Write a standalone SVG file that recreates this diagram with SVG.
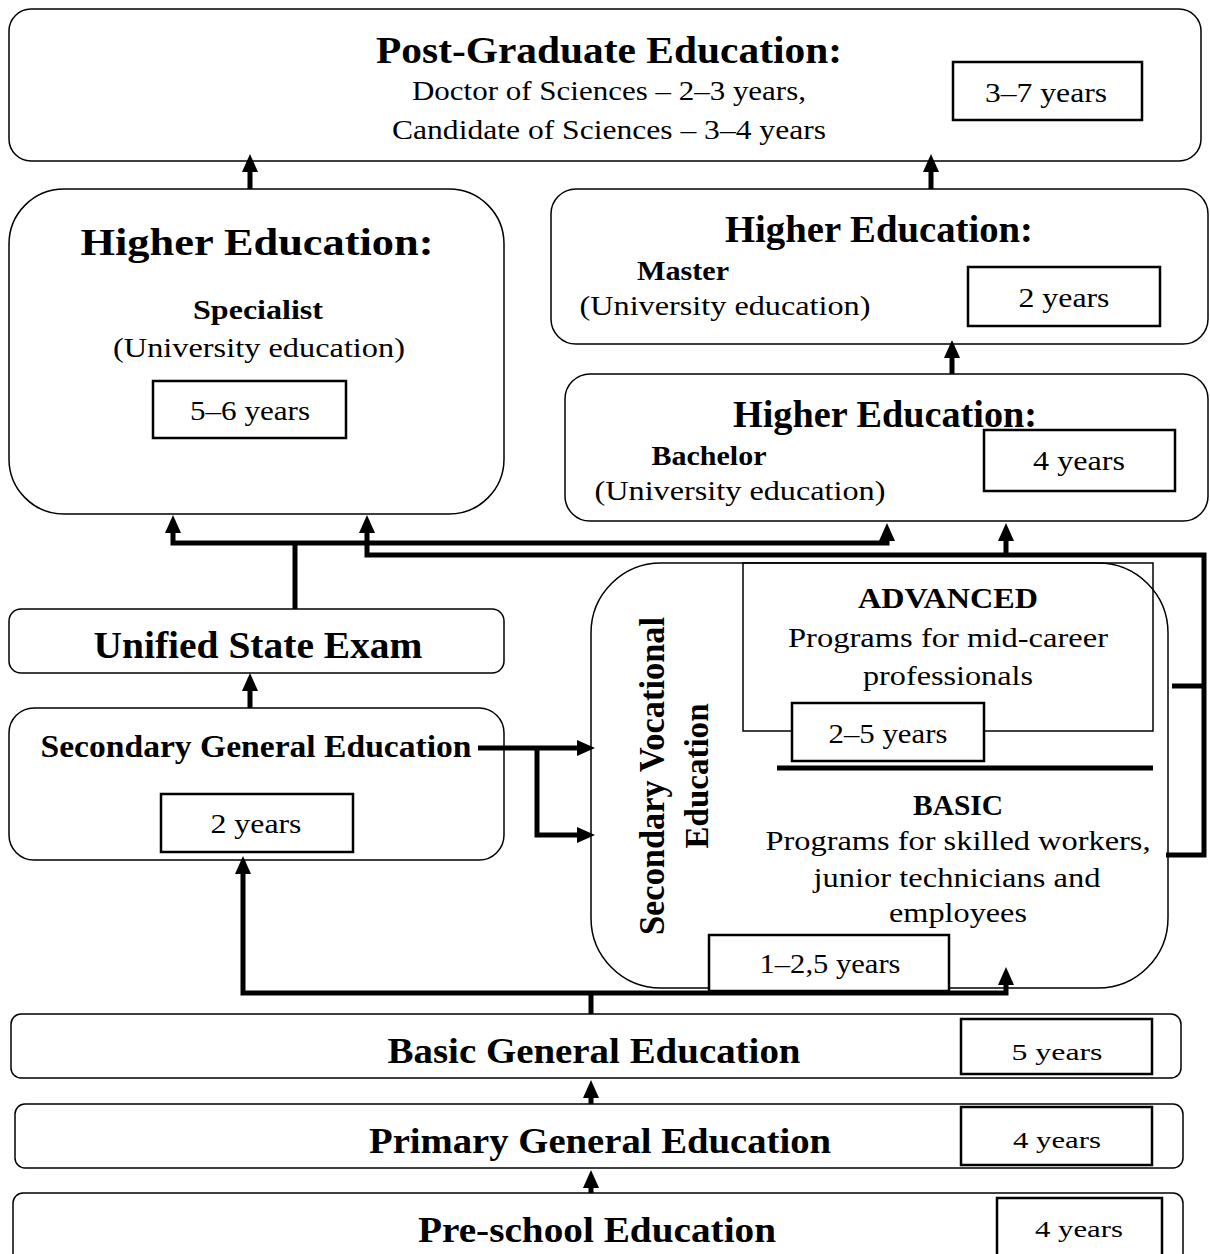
<svg xmlns="http://www.w3.org/2000/svg" width="1210" height="1254" viewBox="0 0 1210 1254">
<style>
text{font-family:"Liberation Serif","Times New Roman",serif;fill:#000;text-anchor:middle}
.b{font-weight:bold}
.box{fill:#fff;stroke:#000;stroke-width:1.5}
.yr{fill:#fff;stroke:#000;stroke-width:2.5}
.c{fill:none;stroke:#000;stroke-width:5}
</style>
<defs>
<marker id="ah" viewBox="0 0 18 16" refX="1" refY="8" markerWidth="18" markerHeight="16" markerUnits="userSpaceOnUse" orient="auto-start-reverse">
<path d="M0,0 L18,8 L0,16 z" fill="#000"/>
</marker>
</defs>
<rect x="0" y="0" width="1210" height="1254" fill="#fff"/>

<g id="postgrad">
<rect class="box" x="9" y="9" width="1192" height="152" rx="22"/>
<text class="b" x="609" y="63" font-size="37" textLength="466" lengthAdjust="spacingAndGlyphs">Post-Graduate Education:</text>
<text x="609" y="100" font-size="27" textLength="394" lengthAdjust="spacingAndGlyphs">Doctor of Sciences – 2–3 years,</text>
<text x="609" y="139" font-size="27" textLength="434" lengthAdjust="spacingAndGlyphs">Candidate of Sciences – 3–4 years</text>
<rect class="yr" x="953" y="62" width="189" height="58"/>
<text x="1046" y="102" font-size="27" textLength="122" lengthAdjust="spacingAndGlyphs">3–7 years</text>
</g>

<g id="higher-specialist">
<rect class="box" x="9" y="189" width="495" height="325" rx="55"/>
<text class="b" x="257" y="255" font-size="38" textLength="353" lengthAdjust="spacingAndGlyphs">Higher Education:</text>
<text class="b" x="258" y="319" font-size="27" textLength="130" lengthAdjust="spacingAndGlyphs">Specialist</text>
<text x="259" y="357" font-size="27" textLength="292" lengthAdjust="spacingAndGlyphs">(University education)</text>
<rect class="yr" x="153" y="381" width="193" height="57"/>
<text x="250" y="420" font-size="27" textLength="120" lengthAdjust="spacingAndGlyphs">5–6 years</text>
</g>

<g id="higher-master">
<rect class="box" x="551" y="189" width="657" height="155" rx="25"/>
<text class="b" x="879" y="242" font-size="37" textLength="308" lengthAdjust="spacingAndGlyphs">Higher Education:</text>
<text class="b" x="683" y="280" font-size="27" textLength="92" lengthAdjust="spacingAndGlyphs">Master</text>
<text x="725" y="315" font-size="27" textLength="291" lengthAdjust="spacingAndGlyphs">(University education)</text>
<rect class="yr" x="968" y="267" width="192" height="59"/>
<text x="1064" y="307" font-size="27" textLength="91" lengthAdjust="spacingAndGlyphs">2 years</text>
</g>

<g id="higher-bachelor">
<rect class="box" x="565" y="374" width="643" height="147" rx="25"/>
<text class="b" x="885" y="427" font-size="37" textLength="304" lengthAdjust="spacingAndGlyphs">Higher Education:</text>
<text class="b" x="709" y="465" font-size="27" textLength="115" lengthAdjust="spacingAndGlyphs">Bachelor</text>
<text x="740" y="500" font-size="27" textLength="291" lengthAdjust="spacingAndGlyphs">(University education)</text>
<rect class="yr" x="984" y="430" width="191" height="61"/>
<text x="1079" y="470" font-size="27" textLength="92" lengthAdjust="spacingAndGlyphs">4 years</text>
</g>

<g id="unified-state-exam">
<rect class="box" x="9" y="609" width="495" height="64" rx="12"/>
<text class="b" x="258" y="658" font-size="37" textLength="329" lengthAdjust="spacingAndGlyphs">Unified State Exam</text>
</g>

<g id="secondary-general">
<rect class="box" x="9" y="708" width="495" height="152" rx="25"/>
<text class="b" x="256" y="757" font-size="32" textLength="431" lengthAdjust="spacingAndGlyphs">Secondary General Education</text>
<rect class="yr" x="161" y="794" width="192" height="58"/>
<text x="256" y="833" font-size="27" textLength="91" lengthAdjust="spacingAndGlyphs">2 years</text>
</g>

<g id="secondary-vocational">
<rect class="box" x="591" y="563" width="577" height="425" rx="70"/>
<text class="b" font-size="35" textLength="318" lengthAdjust="spacingAndGlyphs" transform="translate(664,776) rotate(-90)">Secondary Vocational</text>
<text class="b" font-size="33" textLength="145" lengthAdjust="spacingAndGlyphs" transform="translate(708,776) rotate(-90)">Education</text>
<rect fill="none" stroke="#000" stroke-width="1.5" x="743" y="563" width="410" height="168"/>
<text class="b" x="948" y="608" font-size="29" textLength="180" lengthAdjust="spacingAndGlyphs">ADVANCED</text>
<text x="948" y="647" font-size="28" textLength="320" lengthAdjust="spacingAndGlyphs">Programs for mid-career</text>
<text x="948" y="685" font-size="28" textLength="170" lengthAdjust="spacingAndGlyphs">professionals</text>
<rect class="yr" x="792" y="703" width="192" height="58"/>
<text x="888" y="743" font-size="27" textLength="119" lengthAdjust="spacingAndGlyphs">2–5 years</text>
<line x1="777" y1="768" x2="1153" y2="768" stroke="#000" stroke-width="5"/>
<text class="b" x="958" y="815" font-size="29" textLength="90" lengthAdjust="spacingAndGlyphs">BASIC</text>
<text x="958" y="850" font-size="28" textLength="385" lengthAdjust="spacingAndGlyphs">Programs for skilled workers,</text>
<text x="957" y="887" font-size="28" textLength="287" lengthAdjust="spacingAndGlyphs">junior technicians and</text>
<text x="958" y="922" font-size="28" textLength="138" lengthAdjust="spacingAndGlyphs">employees</text>
<rect class="yr" x="709" y="935" width="240" height="56"/>
<text x="830" y="973" font-size="27" textLength="141" lengthAdjust="spacingAndGlyphs">1–2,5 years</text>
</g>

<g id="basic-general">
<rect class="box" x="11" y="1014" width="1170" height="64" rx="10"/>
<text class="b" x="594" y="1063" font-size="35" textLength="413" lengthAdjust="spacingAndGlyphs">Basic General Education</text>
<rect class="yr" x="961" y="1019" width="191" height="55"/>
<text x="1057" y="1060" font-size="23" textLength="91" lengthAdjust="spacingAndGlyphs">5 years</text>
</g>

<g id="primary-general">
<rect class="box" x="15" y="1104" width="1168" height="64" rx="10"/>
<text class="b" x="600" y="1153" font-size="35" textLength="462" lengthAdjust="spacingAndGlyphs">Primary General Education</text>
<rect class="yr" x="961" y="1107" width="191" height="58"/>
<text x="1057" y="1148" font-size="23" textLength="88" lengthAdjust="spacingAndGlyphs">4 years</text>
</g>

<g id="preschool">
<rect class="box" x="13" y="1193" width="1170" height="70" rx="10"/>
<text class="b" x="597" y="1242" font-size="35" textLength="358" lengthAdjust="spacingAndGlyphs">Pre-school Education</text>
<rect class="yr" x="997" y="1198" width="165" height="62"/>
<text x="1079" y="1237" font-size="23" textLength="88" lengthAdjust="spacingAndGlyphs">4 years</text>
</g>

<g id="connectors">
<line class="c" x1="250" y1="189" x2="250" y2="171" marker-end="url(#ah)"/>
<line class="c" x1="931" y1="189" x2="931" y2="171" marker-end="url(#ah)"/>
<line class="c" x1="952" y1="374" x2="952" y2="357" marker-end="url(#ah)"/>
<line class="c" x1="295" y1="609" x2="295" y2="543"/>
<polyline class="c" points="173,532 173,543 887,543 887,540" marker-start="url(#ah)" marker-end="url(#ah)"/>
<polyline class="c" points="367,532 367,555 1204,555 1204,855 1166,855" marker-start="url(#ah)"/>
<line class="c" x1="1006" y1="557" x2="1006" y2="540" marker-end="url(#ah)"/>
<line class="c" x1="1172" y1="686" x2="1204" y2="686"/>
<line class="c" x1="250" y1="708" x2="250" y2="690" marker-end="url(#ah)"/>
<line class="c" x1="478" y1="748" x2="578" y2="748" marker-end="url(#ah)"/>
<polyline class="c" points="537,748 537,835 578,835" marker-end="url(#ah)"/>
<line class="c" x1="591" y1="1014" x2="591" y2="993"/>
<polyline class="c" points="243,873 243,993 1006,993 1006,984" marker-start="url(#ah)" marker-end="url(#ah)"/>
<line class="c" x1="591" y1="1104" x2="591" y2="1097" marker-end="url(#ah)"/>
<line class="c" x1="591" y1="1193" x2="591" y2="1187" marker-end="url(#ah)"/>
</g>
</svg>
